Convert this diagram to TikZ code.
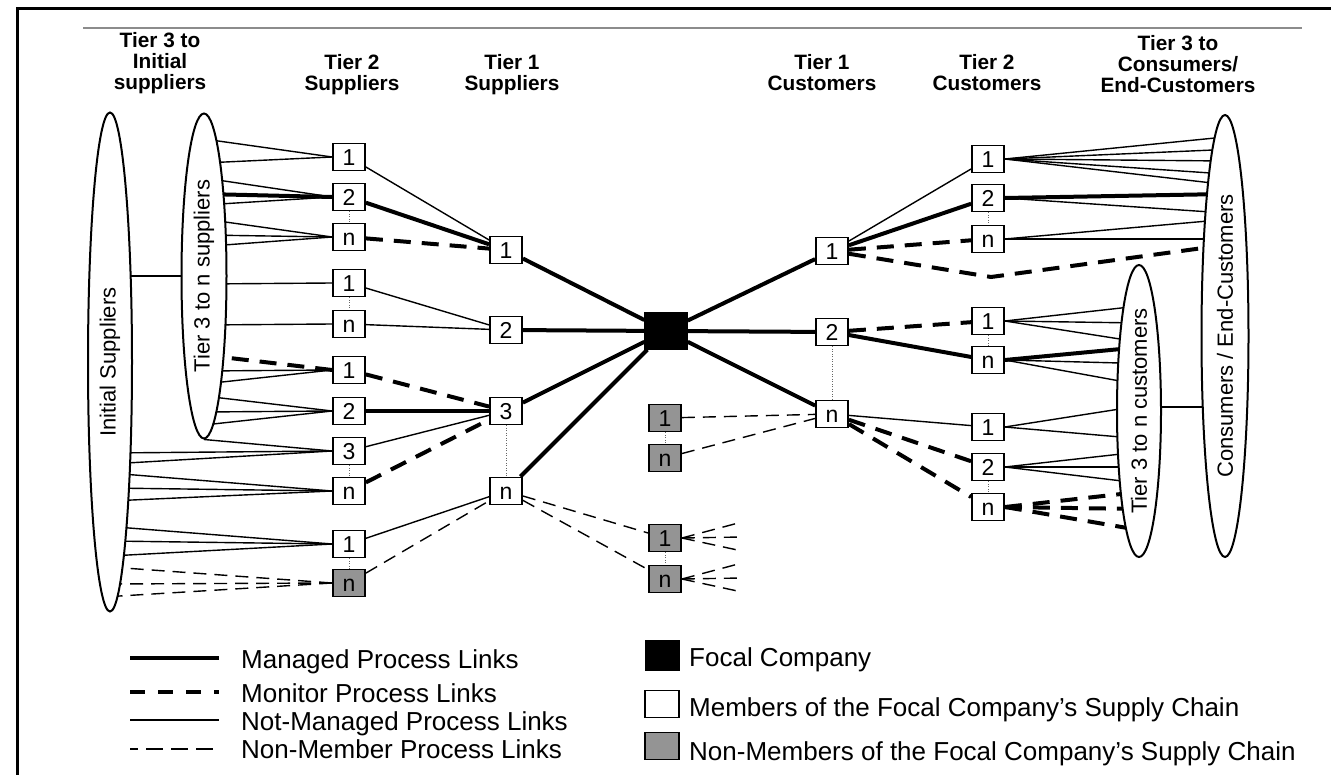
\documentclass[tikz,border=0pt]{standalone}
\usepackage{fontspec}
\setmainfont{Liberation Sans}
\usetikzlibrary{shapes.geometric,calc}
\pgfdeclarelayer{bg}
\pgfsetlayers{bg,main}
\newcommand\hdrfont{\fontsize{20.8}{21}\selectfont\bfseries}
\newcommand\rotfont{\fontsize{22}{24}\selectfont}
\newcommand\boxfont{\fontsize{23}{24}\selectfont}
\newcommand\legfont{\fontsize{26}{28}\selectfont}
\begin{document}
\begin{tikzpicture}[x=1pt,y=-1pt,
  managed/.style={line width=4pt},
  monitor/.style={line width=4pt, dash pattern=on 17pt off 11pt},
  notman/.style={line width=1.4pt},
  nonmem/.style={line width=1.4pt, dash pattern=on 13pt off 8pt},
  dots/.style={line width=1pt, black!60, dash pattern=on 1pt off 1.5pt},
  box/.style={draw, line width=1.8pt, fill=white, minimum width=32pt, minimum height=27pt,
    inner sep=0pt, font=\boxfont, text height=16.5pt, text depth=0pt},
  gbox/.style={box, fill=black!42},
  focal/.style={draw, fill=black, minimum width=43pt, minimum height=37pt, inner sep=0pt},
  ell/.style={ellipse, draw, line width=2pt, fill=white, inner sep=0pt},
  rot/.style={rotate=90, font=\rotfont, inner sep=0pt},
  hdr/.style={font=\hdrfont, align=center, inner sep=0pt, anchor=north},
  legtext/.style={font=\legfont, inner sep=0pt, anchor=base west}
]
\useasboundingbox (0,0) rectangle (1331,775);

% ---------- ellipses ----------
\node[ell, minimum width=44pt, minimum height=499pt] (Init) at (110,362) {};
\node[ell, minimum width=45pt, minimum height=325pt] (T3S) at (204,276) {};
\node[ell, minimum width=44pt, minimum height=292pt] (T3C) at (1139,411) {};
\node[ell, minimum width=47pt, minimum height=442pt] (Cons) at (1225,336) {};
\node[rot] (tInit) at (Init) {Initial Suppliers};
\node[rot] (tT3S) at (T3S) {Tier 3 to n suppliers};
\node[rot] (tT3C) at (T3C) {Tier 3 to n customers};
\node[rot] (tCons) at (Cons) {Consumers / End-Customers};

% ---------- tier 2 suppliers ----------
\node[box] (sA1) at (349,157) {1};
\node[box] (sA2) at (349,197) {2};
\node[box] (sAn) at (349,237) {n};
\node[box] (sB1) at (349,283) {1};
\node[box] (sBn) at (349,324) {n};
\node[box] (sC1) at (349,370) {1};
\node[box] (sC2) at (349,411) {2};
\node[box] (sC3) at (349,451) {3};
\node[box] (sCn) at (349,491) {n};
\node[box] (sD1) at (349,544) {1};
\node[gbox] (sDn) at (349,583) {n};
% ---------- tier 1 suppliers ----------
\node[box] (s1) at (506,250) {1};
\node[box] (s2) at (506,330) {2};
\node[box] (s3) at (506,411) {3};
\node[box] (sn) at (506,491) {n};
% ---------- focal and non-members ----------
\node[focal] (F) at (666,331) {};
\node[gbox] (g1) at (665,418) {1};
\node[gbox] (gn) at (665,458) {n};
\node[gbox] (h1) at (665,538) {1};
\node[gbox] (hn) at (665,579) {n};
% ---------- tier 1 customers ----------
\node[box] (c1) at (832,251) {1};
\node[box] (c2) at (832,332) {2};
\node[box] (cn) at (832,414) {n};
% ---------- tier 2 customers ----------
\node[box] (cA1) at (988,159) {1};
\node[box] (cA2) at (988,198) {2};
\node[box] (cAn) at (988,239) {n};
\node[box] (cB1) at (988,321) {1};
\node[box] (cBn) at (988,360) {n};
\node[box] (cC1) at (988,427) {1};
\node[box] (cC2) at (988,467) {2};
\node[box] (cCn) at (988,507) {n};

\coordinate (bend) at (991,277);
\coordinate (h1a) at (742,522);
\coordinate (h1b) at (742,537);
\coordinate (h1c) at (742,551);
\coordinate (hna) at (742,563);
\coordinate (hnb) at (742,578);
\coordinate (hnc) at (742,592);

% ---------- headers ----------
\node[hdr] (H1) at (160,32.5) {Tier 3 to\\Initial\\suppliers};
\node[hdr] (H2) at (352,54.5) {Tier 2\\Suppliers};
\node[hdr] (H3) at (512,54.5) {Tier 1\\Suppliers};
\node[hdr] (H4) at (822,54.5) {Tier 1\\Customers};
\node[hdr] (H5) at (987,54.5) {Tier 2\\Customers};
\node[hdr] (H6) at (1178,35.5) {Tier 3 to\\Consumers/\\End-Customers};

% ---------- legend ----------
\coordinate (L1a) at (130,658); \coordinate (L1b) at (219,658);
\coordinate (L2a) at (130,692); \coordinate (L2b) at (219,692);
\coordinate (L3a) at (130,720); \coordinate (L3b) at (219,720);
\coordinate (L4a) at (130,749); \coordinate (L4b) at (219,749);
\draw[managed] (L1a) -- (L1b);
\draw[monitor, dash pattern=on 15pt off 13pt] (L2a) -- (L2b);
\draw[notman] (L3a) -- (L3b);
\draw[nonmem, dash pattern=on 8pt off 8pt on 17pt off 8pt on 17pt off 8pt on 17pt off 8pt] (L4a) -- (L4b);
\node[legtext] (LT1) at (241,668) {Managed Process Links};
\node[legtext] (LT2) at (241,702) {Monitor Process Links};
\node[legtext] (LT3) at (241,730) {Not-Managed Process Links};
\node[legtext] (LT4) at (241,758) {Non-Member Process Links};
\node[focal, minimum width=34pt, minimum height=30pt] (LF) at (662,655) {};
\node[box, minimum width=34pt, minimum height=27pt] (LM) at (662,704) {};
\node[gbox, minimum width=34pt, minimum height=27pt] (LN) at (662,746) {};
\node[legtext] (LT5) at (689,666) {Focal Company};
\node[legtext] (LT6) at (689,716) {Members of the Focal Company’s Supply Chain};
\node[legtext] (LT7) at (689,760) {Non-Members of the Focal Company’s Supply Chain};

% ---------- frame ----------
\draw[line width=3pt] (17,775) -- (17,9) -- (1331,9);
\draw[black!45, line width=1.2pt] (83,28) -- (1302,28);

\begin{pgfonlayer}{bg}
\fill[white] (0,0) rectangle (1331,775);
% ellipse links
\draw[notman] ($(Init)+(0,-86)$) -- (T3S);
\draw[notman] ($(T3C)+(0,-4)$) -- ($(Cons)+(0,71)$);
% tier 2 suppliers to tier 3 ellipse
\draw[notman] (sA1.west) -- ($(T3S)+(0,-137)$);
\draw[notman] (sA1.west) -- ($(T3S)+(0,-113)$);
\draw[notman] (sA2.west) -- ($(T3S)+(0,-98)$);
\draw[managed] (sA2.west) -- ($(T3S)+(0,-82)$);
\draw[notman] (sA2.west) -- ($(T3S)+(0,-71)$);
\draw[notman] (sAn.west) -- ($(T3S)+(0,-57)$);
\draw[notman] (sAn.west) -- ($(T3S)+(0,-41)$);
\draw[notman] (sAn.west) -- ($(T3S)+(0,-29.5)$);
\draw[notman] (sB1.west) -- ($(T3S)+(0,8)$);
\draw[notman] (sBn.west) -- ($(T3S)+(0,49)$);
\draw[monitor] (sC1.west) -- ($(T3S)+(0,79)$);
\draw[notman] (sC1.west) -- ($(T3S)+(0,95)$);
\draw[notman] (sC1.west) -- ($(T3S)+(0,108)$);
\draw[notman] (sC2.west) -- ($(T3S)+(0,120)$);
\draw[notman] (sC2.west) -- ($(T3S)+(0,136)$);
\draw[notman] (sC2.west) -- ($(T3S)+(0,149)$);
\draw[notman] (sC3.west) -- (T3S.south);
% tier 2 suppliers to initial suppliers
\draw[notman] (sC3.west) -- ($(Init)+(0,91)$);
\draw[notman] (sC3.west) -- ($(Init)+(0,102)$);
\draw[notman] (sCn.west) -- ($(Init)+(0,111)$);
\draw[notman] (sCn.west) -- ($(Init)+(0,126)$);
\draw[notman] (sCn.west) -- ($(Init)+(0,139)$);
\draw[notman] (sD1.west) -- ($(Init)+(0,164.5)$);
\draw[notman] (sD1.west) -- ($(Init)+(0,179)$);
\draw[notman] (sD1.west) -- ($(Init)+(0,194)$);
\draw[nonmem] (sDn.west) -- ($(Init)+(0,205)$);
\draw[nonmem] (sDn.west) -- ($(Init)+(0,222)$);
\draw[nonmem] (sDn.west) -- ($(Init)+(0,234.6)$);
% tier 2 to tier 1 suppliers
\draw[notman] (sA1) -- (s1);
\draw[managed] (sA2) -- (s1);
\draw[monitor] (sAn) -- (s1);
\draw[notman] (sB1) -- (s2);
\draw[notman] (sBn) -- (s2);
\draw[monitor] (sC1) -- (s3);
\draw[managed] (sC2) -- (s3);
\draw[notman] (sC3) -- (s3);
\draw[monitor] (sCn) -- (s3);
\draw[notman] (sD1) -- (sn);
\draw[nonmem] (sDn) -- (sn);
% focal links
\draw[managed] (s1) -- (F);
\draw[managed] (s2) -- (F);
\draw[managed] (s3) -- (F);
\draw[managed] (sn) -- (F);
\draw[managed] (F) -- (c1);
\draw[managed] (F) -- (c2);
\draw[managed] (F) -- (cn);
% non-members
\draw[nonmem] (sn) -- (h1);
\draw[nonmem] (sn) -- (hn);
\draw[nonmem] (g1) -- (cn);
\draw[nonmem] (gn) -- (cn);
\draw[nonmem] (h1.east) -- (h1a);
\draw[nonmem] (h1.east) -- (h1b);
\draw[nonmem] (h1.east) -- (h1c);
\draw[nonmem] (hn.east) -- (hna);
\draw[nonmem] (hn.east) -- (hnb);
\draw[nonmem] (hn.east) -- (hnc);
% tier 1 to tier 2 customers
\draw[notman] (c1) -- (cA1);
\draw[managed] (c1) -- (cA2);
\draw[monitor] (c1) -- (cAn);
\draw[monitor] (c1) -- (bend) -- ($(Cons)+(0,-91)$);
\draw[monitor] (c2) -- (cB1);
\draw[managed] (c2) -- (cBn);
\draw[notman] (cn) -- (cC1);
\draw[monitor] (cn) -- (cC2);
\draw[monitor] (cn) -- (cCn);
% tier 2 customers to consumers
\draw[notman] (cA1.east) -- ($(Cons)+(0,-199)$);
\draw[notman] (cA1.east) -- ($(Cons)+(0,-186.5)$);
\draw[notman] (cA1.east) -- ($(Cons)+(0,-175)$);
\draw[notman] (cA1.east) -- ($(Cons)+(0,-162)$);
\draw[notman] (cA1.east) -- ($(Cons)+(0,-151.5)$);
\draw[managed] (cA2.east) -- ($(Cons)+(0,-142)$);
\draw[notman] (cA2.east) -- ($(Cons)+(0,-123)$);
\draw[notman] (cAn.east) -- ($(Cons)+(0,-116.5)$);
\draw[notman] (cAn.east) -- ($(Cons)+(0,-97)$);
% tier 2 customers to tier 3 customers
\draw[notman] (cB1.east) -- ($(T3C)+(0,-105)$);
\draw[notman] (cB1.east) -- ($(T3C)+(0,-88)$);
\draw[notman] (cB1.east) -- ($(T3C)+(0,-69)$);
\draw[managed] (cBn.east) -- ($(T3C)+(0,-63.7)$);
\draw[notman] (cBn.east) -- ($(T3C)+(0,-47.5)$);
\draw[notman] (cBn.east) -- ($(T3C)+(0,-26.5)$);
\draw[notman] (cC1.east) -- ($(T3C)+(0,-5)$);
\draw[notman] (cC1.east) -- ($(T3C)+(0,27.6)$);
\draw[notman] (cC2.east) -- ($(T3C)+(0,41)$);
\draw[notman] (cC2.east) -- ($(T3C)+(0,56)$);
\draw[notman] (cC2.east) -- ($(T3C)+(0,72)$);
\draw[monitor] (cCn.east) -- ($(T3C)+(0,81)$);
\draw[monitor] (cCn.east) -- ($(T3C)+(0,98)$);
\draw[monitor] (cCn.east) -- ($(T3C)+(0,119)$);
% dotted group links
\draw[dots] (sA2) -- (sAn);
\draw[dots] (sB1) -- (sBn);
\draw[dots] (sC3) -- (sCn);
\draw[dots] (sD1) -- (sDn);
\draw[dots] (s3) -- (sn);
\draw[dots] (g1) -- (gn);
\draw[dots] (h1) -- (hn);
\draw[dots] (c2) -- (cn);
\draw[dots] (cA2) -- (cAn);
\draw[dots] (cB1) -- (cBn);
\draw[dots] (cC2) -- (cCn);
\end{pgfonlayer}
\end{tikzpicture}
\end{document}
